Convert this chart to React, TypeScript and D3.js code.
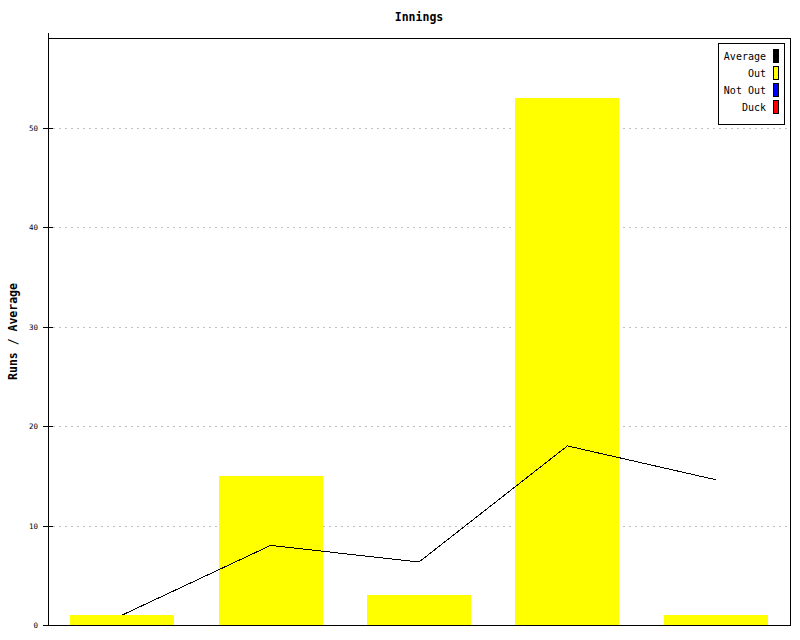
import React from "react";
import * as d3 from "d3";

const innings = ["1", "2", "3", "4", "5"];
const runsOut = [1, 15, 3, 53, 1];
const runsNotOut = [0, 0, 0, 0, 0];
const average = [1, 8, 6.33, 18, 14.6];
const yTicks = [0, 10, 20, 30, 40, 50];
const legendLabels = ["Average", "Out", "Not Out", "Duck"];
const legendColors = ["#000000", "#ffff00", "#0000ff", "#ff0000"];

const W = 800;
const H = 640;
const left = 48;
const right = 790;
const top = 38;
const bottom = 625;
const mono = "'DejaVu Sans Mono', 'Liberation Mono', monospace";

export default function App() {
  const x = d3.scaleBand<string>().domain(innings).range([left, right]).paddingInner(0.3).paddingOuter(0.15);
  const y = d3.scaleLinear().domain([0, 59]).range([bottom, top]);
  const line = d3
    .line<number>()
    .x((_, i) => (x(innings[i]) as number) + x.bandwidth() / 2)
    .y((d) => y(d));

  return (
    <svg width={W} height={H} style={{ position: "absolute", left: 0, top: 0, background: "#fff" }}>
      <rect x={0} y={0} width={W} height={H} fill="#fff" />
      <text x={(left + right) / 2} y={21} textAnchor="middle" fontFamily={mono} fontWeight="bold" fontSize={11.5}>
        Innings
      </text>
      <text
        transform={`translate(17, ${(top + bottom) / 2}) rotate(-90)`}
        textAnchor="middle"
        fontFamily={mono}
        fontWeight="bold"
        fontSize={11.5}
      >
        Runs / Average
      </text>
      {yTicks.filter((t) => t > 0).map((t) => (
        <line
          key={"g" + t}
          x1={left + 5}
          x2={right}
          y1={Math.round(y(t)) + 0.5}
          y2={Math.round(y(t)) + 0.5}
          stroke="#c0c0c0"
          strokeDasharray="2,4"
          shapeRendering="crispEdges"
        />
      ))}
      {innings.map((c, i) => (
        <rect
          key={c}
          x={x(c)}
          y={y(runsOut[i] + runsNotOut[i])}
          width={x.bandwidth()}
          height={y(0) - y(runsOut[i] + runsNotOut[i])}
          fill="#ffff00"
          shapeRendering="crispEdges"
        />
      ))}
      <path d={line(average) || ""} fill="none" stroke="#000" strokeWidth={1} shapeRendering="crispEdges" />
      <line x1={left + 0.5} x2={right} y1={top + 0.5} y2={top + 0.5} stroke="#000" shapeRendering="crispEdges" />
      <line x1={right + 0.5} x2={right + 0.5} y1={top} y2={bottom + 1} stroke="#000" shapeRendering="crispEdges" />
      <line x1={left + 0.5} x2={left + 0.5} y1={33} y2={bottom + 1} stroke="#000" shapeRendering="crispEdges" />
      <line x1={43} x2={right + 1} y1={bottom + 0.5} y2={bottom + 0.5} stroke="#000" shapeRendering="crispEdges" />
      {yTicks.map((t) => (
        <g key={"t" + t}>
          <line x1={43} x2={53} y1={Math.round(y(t)) + 0.5} y2={Math.round(y(t)) + 0.5} stroke="#000" shapeRendering="crispEdges" />
          <text x={38} y={Math.round(y(t)) + 3} textAnchor="end" fontFamily={mono} fontSize={7.5}>
            {t}
          </text>
        </g>
      ))}
      <rect x={718.5} y={43.5} width={66} height={81} fill="#fff" stroke="#000" shapeRendering="crispEdges" />
      {legendLabels.map((l, i) => (
        <g key={l}>
          <text x={766} y={60 + i * 17} textAnchor="end" fontFamily={mono} fontSize={10}>
            {l}
          </text>
          <rect
            x={773.5}
            y={49.5 + i * 17}
            width={5}
            height={13}
            fill={legendColors[i]}
            stroke="#000"
            shapeRendering="crispEdges"
          />
        </g>
      ))}
    </svg>
  );
}
